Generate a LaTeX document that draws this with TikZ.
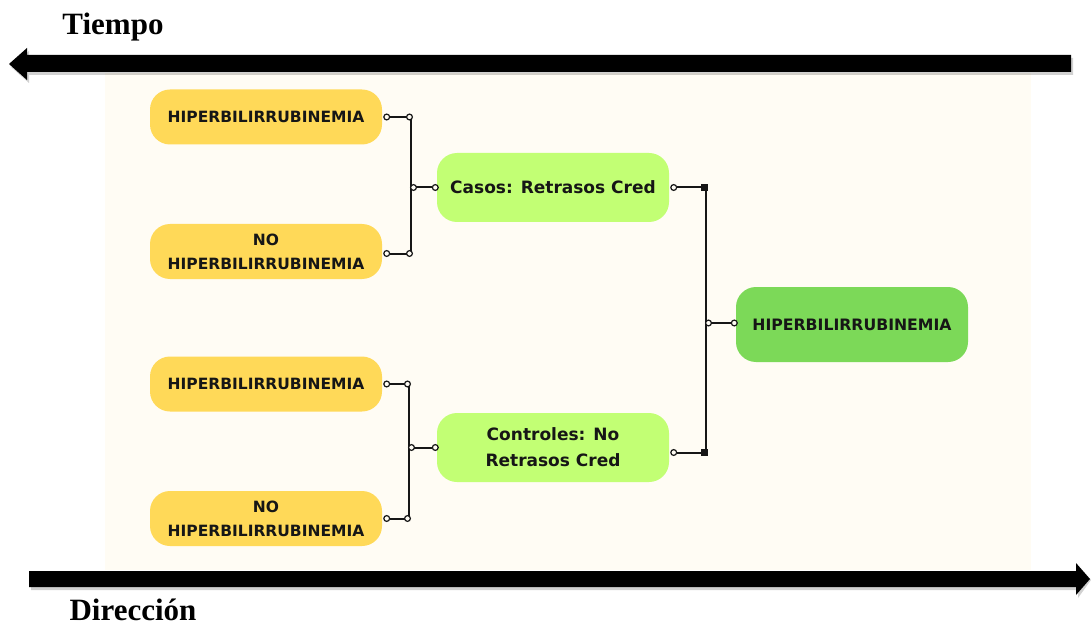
\documentclass[tikz,border=0pt]{standalone}
\usepackage{fontspec}
\setmainfont{Liberation Serif}
\newfontfamily\nfont{DejaVu Sans}
\usetikzlibrary{arrows.meta}
\definecolor{bg}{RGB}{255,252,244}
\definecolor{yel}{RGB}{255,217,88}
\definecolor{lgreen}{RGB}{194,255,116}
\definecolor{dgreen}{RGB}{124,217,88}
\definecolor{ink}{RGB}{22,22,22}
\begin{document}
\begin{tikzpicture}[x=1pt,y=-1pt,
  box/.style={rounded corners=20pt, minimum width=232pt, align=center, text=ink, inner sep=0pt},
  ybox/.style={box, fill=yel, minimum height=55pt, font=\nfont\bfseries\fontsize{15.5}{24}\selectfont},
  gbox/.style={box, fill=lgreen, minimum height=69pt, font=\nfont\bfseries\fontsize{17}{26}\selectfont},
  dbox/.style={box, fill=dgreen, minimum height=75pt, font=\nfont\bfseries\fontsize{15.7}{24}\selectfont},
  con/.style={line width=2pt, draw=ink},
  oo/.style={con, {Circle[fill=bg,length=7pt,width=7pt,line width=1.2pt]}-{Circle[fill=bg,length=7pt,width=7pt,line width=1.2pt]}},
  osq/.style={con, {Circle[fill=bg,length=7pt,width=7pt,line width=1.2pt]}-{Square[length=7pt,width=7pt]}},
  ttl/.style={font=\bfseries\fontsize{31}{36}\selectfont, text=black}]
\useasboundingbox (0,0) rectangle (1091,628);
% background panel
\fill[bg] (105,73) rectangle (1031,570);
% big arrows with soft shadow
\fill[black, opacity=0.18] (1073,58) -- (29,58) -- (29,51) -- (11,67) -- (29,83) -- (29,75) -- (1073,75) -- cycle;
\fill[black] (1071,55) -- (27,55) -- (27,48) -- (9,64) -- (27,80) -- (27,72) -- (1071,72) -- cycle;
\fill[black, opacity=0.18] (31,574) -- (1078,574) -- (1078,566) -- (1091,580) -- (1078,598) -- (1078,590) -- (31,590) -- cycle;
\fill[black] (29,571) -- (1076,571) -- (1076,563) -- (1090,579) -- (1076,595) -- (1076,587) -- (29,587) -- cycle;
\node[ttl] (tiempo) at (113,27) {Tiempo};
\node[ttl] (direccion) at (133,610) {Dirección};
% nodes
\node[ybox] (y1) at (266,117) {HIPERBILIRRUBINEMIA};
\node[ybox] (y2) at (266,251.5) {NO\\HIPERBILIRRUBINEMIA};
\node[ybox] (y3) at (266,384) {HIPERBILIRRUBINEMIA};
\node[ybox] (y4) at (266,518.5) {NO\\HIPERBILIRRUBINEMIA};
\node[gbox] (casos) at (553,187.5) {Casos: Retrasos Cred};
\node[gbox] (ctrl) at (553,447.5) {Controles: No\\Retrasos Cred};
\node[dbox] (hb) at (852,324.5) {HIPERBILIRRUBINEMIA};
% junction columns
\coordinate (bx) at (411,0);
\coordinate (cx) at (409,0);
\coordinate (rx) at (706,0);
% upper group
\draw[con] (y1.east -| bx) -- (y2.east -| bx);
\draw[oo] ([xshift=1pt]y1.east) -- ([xshift=2pt]y1.east -| bx);
\draw[oo] ([xshift=1pt,yshift=-2pt]y2.east) -- ([xshift=2pt,yshift=-2pt]y2.east -| bx);
\draw[oo] ([xshift=-1pt]casos.west -| bx) -- ([xshift=2pt]casos.west);
% lower group
\draw[con] (y3.east -| cx) -- (y4.east -| cx);
\draw[oo] ([xshift=1pt]y3.east) -- ([xshift=2pt]y3.east -| cx);
\draw[oo] ([xshift=1pt]y4.east) -- ([xshift=2pt]y4.east -| cx);
\draw[oo] ([xshift=-1pt]ctrl.west -| cx) -- ([xshift=2pt]ctrl.west);
% right group
\draw[con] (casos.east -| rx) -- ([yshift=-5pt]ctrl.east -| rx);
\draw[osq] ([xshift=1pt]casos.east) -- ([xshift=2pt]casos.east -| rx);
\draw[osq] ([xshift=1pt,yshift=-5pt]ctrl.east) -- ([xshift=2pt,yshift=-5pt]ctrl.east -| rx);
\draw[oo] ([xshift=-1pt,yshift=1.5pt]hb.west -| rx) -- ([xshift=2pt,yshift=1.5pt]hb.west);
\end{tikzpicture}
\end{document}
